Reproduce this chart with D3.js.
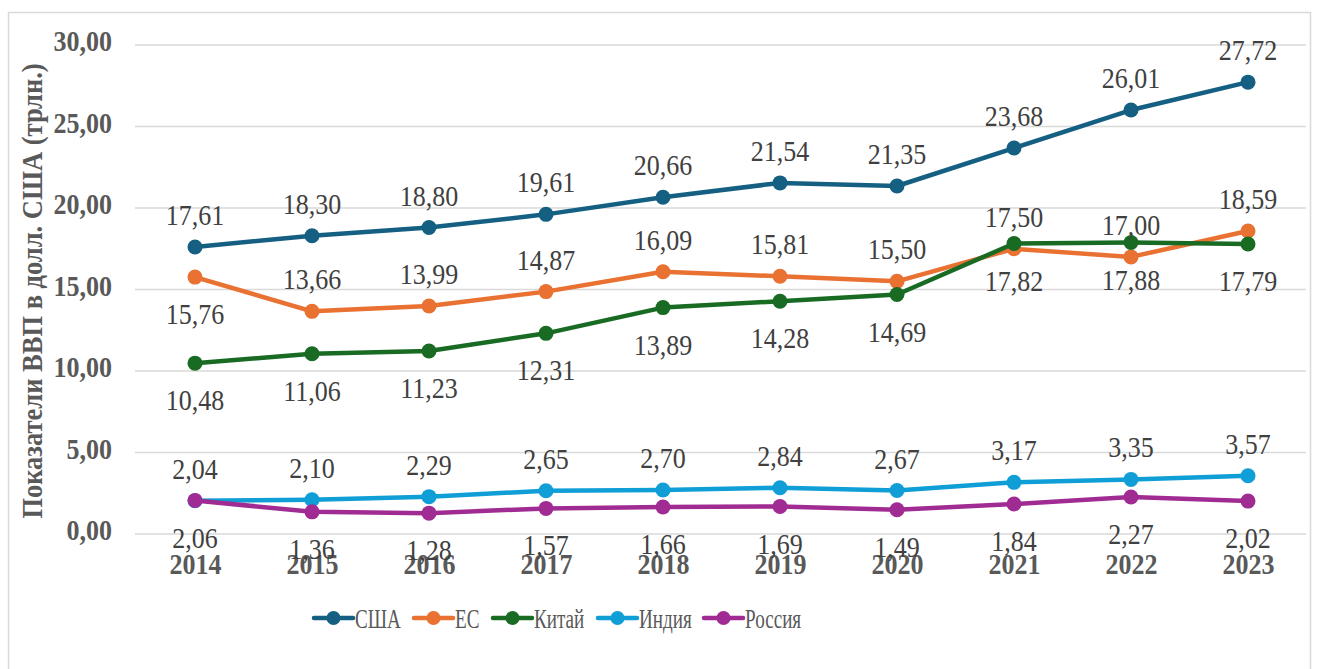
<!DOCTYPE html>
<html><head><meta charset="utf-8">
<script src="https://cdn.jsdelivr.net/npm/d3@7"></script>
<style>html,body{margin:0;padding:0;background:#fff;}svg{display:block;}</style>
</head><body>
<svg id="c" width="1317" height="669"></svg>
<script>
const years = ["2014","2015","2016","2017","2018","2019","2020","2021","2022","2023"];
const seriesNames = ["США","ЕС","Китай","Индия","Россия"];
const usa    = [17.61,18.30,18.80,19.61,20.66,21.54,21.35,23.68,26.01,27.72];
const eu     = [15.76,13.66,13.99,14.87,16.09,15.81,15.50,17.50,17.00,18.59];
const china  = [10.48,11.06,11.23,12.31,13.89,14.28,14.69,17.82,17.88,17.79];
const india  = [2.04,2.10,2.29,2.65,2.70,2.84,2.67,3.17,3.35,3.57];
const russia = [2.06,1.36,1.28,1.57,1.66,1.69,1.49,1.84,2.27,2.02];
const yTicks = [0,5,10,15,20,25,30];
const colors = ["#156082","#E97132","#196B24","#0F9ED5","#A02B93"];
const labelSide = ["above","above","below","above","below"];
const labelSideExceptions = {"ЕС|2014":"below"};
const yTitle = "Показатели ВВП в долл. США (трлн.)";

const data = [usa,eu,china,india,russia];
const svg = d3.select("#c");
const FONT = '"Liberation Serif"';
const VS = 1.12; // vertical stretch of the reference's text

svg.append("rect").attr("x",8.5).attr("y",12.5).attr("width",1302).attr("height",670)
  .attr("fill","#fff").attr("stroke","#d9d9d9").attr("stroke-width",1.5);

const x = d3.scalePoint().domain(years).range([195,1248]);
const y = d3.scaleLinear().domain([0,30]).range([534,45]);

// grid
svg.append("g").selectAll("line").data(yTicks).join("line")
  .attr("x1",135).attr("x2",1306).attr("y1",d=>y(d)).attr("y2",d=>y(d))
  .attr("stroke","#d9d9d9").attr("stroke-width",1.5);

const fmt = d=>d3.format(".2f")(d).replace(".",",");

// y axis
const yAxis = svg.append("g").attr("transform","translate(112,-3)")
  .call(d3.axisLeft(y).tickValues(yTicks).tickFormat(fmt).tickSize(0).tickPadding(0));
yAxis.select(".domain").remove();
yAxis.selectAll("text").style("font-family",FONT).style("font-size","26px").style("font-weight","bold")
  .attr("fill","#595959").attr("x",0).attr("dy",null).attr("y",8).attr("transform",`scale(1,${VS})`);

// x axis
const xAxis = svg.append("g").attr("transform","translate(0,565)")
  .call(d3.axisBottom(x).tickSize(0).tickPadding(0));
xAxis.select(".domain").remove();
xAxis.selectAll("text").style("font-family",FONT).style("font-size","26px").style("font-weight","bold")
  .attr("fill","#595959").attr("y",8).attr("dy",null).attr("transform",`scale(1,${VS})`);

// y title
svg.append("g").attr("transform","translate(32,291) rotate(-90)")
  .append("text").attr("text-anchor","middle").attr("y",8.5).attr("transform",`scale(1,${VS})`)
  .style("font-family",FONT).style("font-size","26.5px").style("font-weight","bold").attr("fill","#595959")
  .text(yTitle);

const line = d3.line().x((d,i)=>x(years[i])).y(d=>y(d));

data.forEach((vals,s)=>{
  const g = svg.append("g");
  g.append("path").datum(vals).attr("d",line).attr("fill","none")
    .attr("stroke",colors[s]).attr("stroke-width",4.5).attr("stroke-linejoin","round").attr("stroke-linecap","round");
  g.selectAll("circle").data(vals).join("circle")
    .attr("cx",(d,i)=>x(years[i])).attr("cy",d=>y(d)).attr("r",7.5).attr("fill",colors[s]);
});

data.forEach((vals,s)=>{
  svg.append("g").selectAll("g").data(vals).join("g")
    .attr("transform",(d,i)=>{
      const side = labelSideExceptions[seriesNames[s]+"|"+years[i]] || labelSide[s];
      return `translate(${x(years[i])},${y(d) + (side==="above" ? -32 : 37)})`;
    })
    .append("text")
    .attr("y",9).attr("text-anchor","middle").attr("transform",`scale(1,${VS})`)
    .style("font-family",FONT).style("font-size","26px").attr("fill","#404040")
    .text(d=>fmt(d));
});

// legend
const legX = [314,414,493,598,704];
const lg = svg.append("g").attr("transform","translate(0,619)");
seriesNames.forEach((n,i)=>{
  const gi = lg.append("g").attr("transform",`translate(${legX[i]},0)`);
  gi.append("line").attr("x1",0).attr("x2",39).attr("y1",-1).attr("y2",-1)
    .attr("stroke",colors[i]).attr("stroke-width",4.5).attr("stroke-linecap","round");
  gi.append("circle").attr("cx",19.5).attr("cy",-1).attr("r",7).attr("fill",colors[i]);
  gi.append("g").attr("transform","translate(41,0) scale(0.75,1.08)")
    .append("text").attr("y",8.5).style("font-family",FONT).style("font-size","25.5px")
    .attr("fill","#595959").text(n);
});
</script>
</body></html>
